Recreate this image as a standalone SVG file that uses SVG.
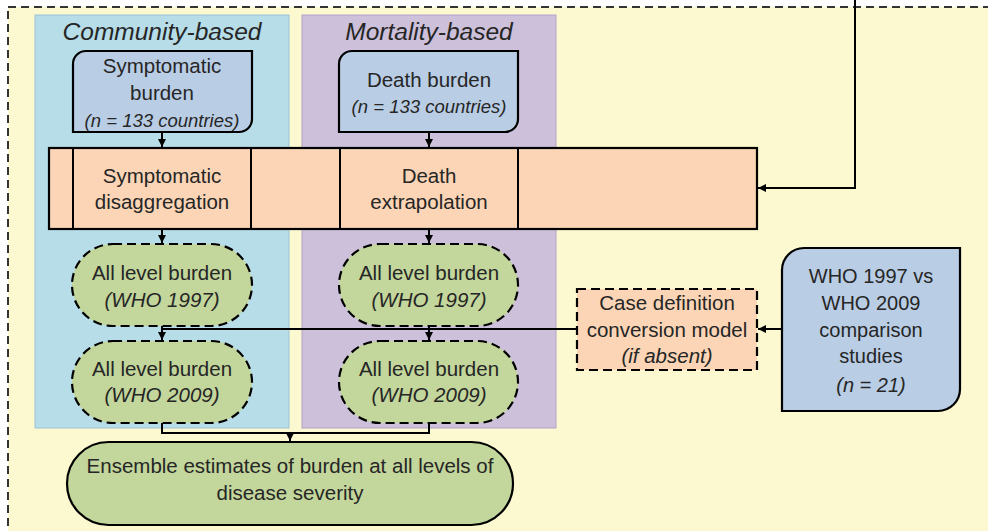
<svg xmlns="http://www.w3.org/2000/svg" width="988" height="531" viewBox="0 0 988 531">
<defs>
<marker id="ah" viewBox="0 0 10 10" refX="10" refY="5" markerWidth="4" markerHeight="4" orient="auto" markerUnits="strokeWidth">
<path d="M0,0 L10,5 L0,10 z" fill="#000"/>
</marker>
<style>
text{font-family:"Liberation Sans",Arial,sans-serif;fill:#262626;text-anchor:middle;font-size:20.5px}
.it{font-style:italic}
.sm{font-size:18.5px}
.who{font-size:20px}
.title{font-size:24.5px;font-style:italic}
.src{fill:#B9CDE5;stroke:#000;stroke-width:2.2}
.proc{fill:#FBD5B5;stroke:#000;stroke-width:2.2}
.pill{fill:#C3D69B;stroke:#000;stroke-width:2.2;stroke-dasharray:9,5}
.conn{fill:none;stroke:#000;stroke-width:2}
</style>
</defs>
<rect x="0" y="0" width="988" height="531" fill="#fff"/>
<rect x="8" y="7" width="1000" height="540" fill="#FCF8D0" stroke="#333" stroke-width="2" stroke-dasharray="8,5"/>
<g id="panel-community">
<rect x="35" y="15" width="254" height="413" fill="#B7DDE8" stroke="#9CC3D6" stroke-width="1"/>
<text x="162" y="40" class="title">Community-based</text>
</g>
<g id="panel-mortality">
<rect x="302" y="15" width="254" height="413" fill="#CCC0DA" stroke="#B3A2C7" stroke-width="1"/>
<text x="429" y="40" class="title">Mortality-based</text>
</g>
<g id="symptomatic-burden">
<path class="src" d="M86,51 H252 V119 A13,13 0 0 1 239,132 H73 V64 A13,13 0 0 1 86,51 Z"/>
<text x="162" y="73">Symptomatic</text>
<text x="162" y="100">burden</text>
<text x="162" y="127" class="it sm">(n = 133 countries)</text>
</g>
<g id="death-burden">
<path class="src" d="M352,51 H518 V119 A13,13 0 0 1 505,132 H339 V64 A13,13 0 0 1 352,51 Z"/>
<text x="429" y="87">Death burden</text>
<text x="429" y="113" class="it sm">(n = 133 countries)</text>
</g>
<g id="process-band">
<rect class="proc" x="49" y="148" width="708" height="81"/>
<line x1="73" y1="148" x2="73" y2="229" stroke="#000" stroke-width="2"/>
<line x1="251" y1="148" x2="251" y2="229" stroke="#000" stroke-width="2"/>
<line x1="340" y1="148" x2="340" y2="229" stroke="#000" stroke-width="2"/>
<line x1="518" y1="148" x2="518" y2="229" stroke="#000" stroke-width="2"/>
</g>
<g id="symptomatic-disaggregation">
<text x="162" y="183">Symptomatic</text>
<text x="162" y="209">disaggregation</text>
</g>
<g id="death-extrapolation">
<text x="429" y="183">Death</text>
<text x="429" y="209">extrapolation</text>
</g>
<g id="community-1997">
<rect class="pill" x="72" y="244" width="180" height="82" rx="41"/>
<text x="162" y="280">All level burden</text>
<text x="162" y="307" class="it">(WHO 1997)</text>
</g>
<g id="community-2009">
<rect class="pill" x="72" y="341" width="180" height="82" rx="41"/>
<text x="162" y="376">All level burden</text>
<text x="162" y="402" class="it">(WHO 2009)</text>
</g>
<g id="mortality-1997">
<rect class="pill" x="339" y="244" width="179" height="82" rx="41"/>
<text x="429" y="280">All level burden</text>
<text x="429" y="307" class="it">(WHO 1997)</text>
</g>
<g id="mortality-2009">
<rect class="pill" x="339" y="341" width="179" height="82" rx="41"/>
<text x="429" y="376">All level burden</text>
<text x="429" y="402" class="it">(WHO 2009)</text>
</g>
<g id="case-definition">
<rect x="577" y="289" width="180" height="81" fill="#FBD5B5" stroke="#000" stroke-width="2.2" stroke-dasharray="9,5"/>
<text x="667" y="310">Case definition</text>
<text x="667" y="337">conversion model</text>
<text x="667" y="363" class="it">(if absent)</text>
</g>
<g id="comparison-studies">
<path class="src" d="M804,248 H960 V389 A22,22 0 0 1 938,411 H782 V270 A22,22 0 0 1 804,248 Z"/>
<text x="871" y="283" class="who">WHO 1997 vs</text>
<text x="871" y="310" class="who">WHO 2009</text>
<text x="871" y="337" class="who">comparison</text>
<text x="871" y="363" class="who">studies</text>
<text x="871" y="392" class="it who">(n = 21)</text>
</g>
<g id="ensemble">
<rect x="67" y="442" width="446" height="83" rx="41.5" fill="#C3D69B" stroke="#000" stroke-width="2.2"/>
<text x="290" y="473">Ensemble estimates of burden at all levels of</text>
<text x="290" y="500">disease severity</text>
</g>
<g id="connectors">
<line class="conn" x1="162" y1="132" x2="162" y2="147" marker-end="url(#ah)"/>
<line class="conn" x1="429" y1="132" x2="429" y2="147" marker-end="url(#ah)"/>
<line class="conn" x1="162" y1="229" x2="162" y2="243" marker-end="url(#ah)"/>
<line class="conn" x1="429" y1="229" x2="429" y2="243" marker-end="url(#ah)"/>
<polyline class="conn" points="855,0 855,188 758,188" marker-end="url(#ah)"/>
<line class="conn" x1="162" y1="326" x2="162" y2="340" marker-end="url(#ah)"/>
<line class="conn" x1="429" y1="326" x2="429" y2="340" marker-end="url(#ah)"/>
<line class="conn" x1="162" y1="329" x2="577" y2="329"/>
<line class="conn" x1="782" y1="329" x2="758" y2="329" marker-end="url(#ah)"/>
<polyline class="conn" points="162,423 162,433 429,433 429,423"/>
<line class="conn" x1="290" y1="433" x2="290" y2="441" marker-end="url(#ah)"/>
</g>
</svg>
